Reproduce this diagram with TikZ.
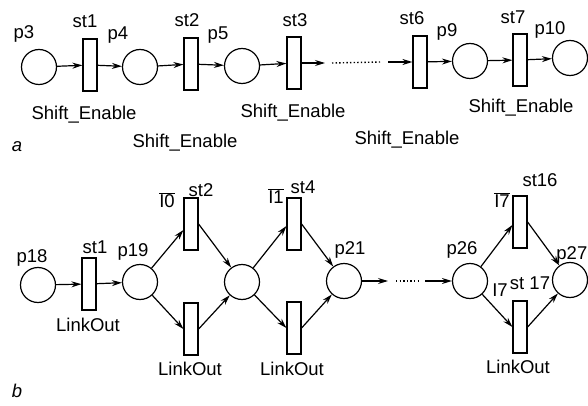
\documentclass[tikz,border=0pt]{standalone}
\usepackage{fontspec}
\setmainfont{Liberation Sans}
\usetikzlibrary{arrows.meta}
\begin{document}
\begin{tikzpicture}[x=1pt,y=-1pt,
  place/.style={circle,draw,line width=1.2pt,minimum size=35pt,inner sep=0pt},
  trans/.style={rectangle,draw,line width=1.2pt,minimum width=14pt,minimum height=52pt,inner sep=0pt},
  lbl/.style={font=\fontsize{18.5}{20}\selectfont,inner sep=0pt},
  tag/.style={font=\fontsize{18.5}{20}\selectfont\itshape,inner sep=0pt},
  arc/.style={line width=1.2pt,-{Stealth[length=10pt,width=6pt]}},
  dots/.style={line width=1.4pt,dash pattern=on 1.4pt off 2.2pt}]
\useasboundingbox (0,0) rectangle (588,406);
% ---------- part a ----------
\node[place] (p3) at (39,67) {};
\node[trans] (st1) at (90,65) {};
\node[place] (p4) at (140,67) {};
\node[trans] (st2) at (191,64) {};
\node[place] (p5) at (242,66) {};
\node[trans] (st3) at (294,63) {};
\coordinate (a1) at (325,63);
\coordinate (a2) at (332,63);
\coordinate (a3) at (380,62);
\coordinate (a4) at (388,62);
\node[trans] (st6) at (420,62) {};
\node[place] (p9) at (470,61) {};
\node[trans] (st7) at (520,60) {};
\node[place] (p10) at (570,58) {};
\draw[arc] (p3) -- (st1);
\draw[arc] (st1) -- (p4);
\draw[arc] (p4) -- (st2);
\draw[arc] (st2) -- (p5);
\draw[arc] (p5) -- (st3);
\draw[arc] (st3) -- (a1);
\draw[dots] (a2) -- (a3);
\draw[arc] (a4) -- (st6);
\draw[arc] (st6) -- (p9);
\draw[arc] (p9) -- (st7);
\draw[arc] (st7) -- (p10);
\node[lbl] (lp3) at (24,34) {p3};
\node[lbl] (lst1) at (85,21) {st1};
\node[lbl] (lp4) at (118,35) {p4};
\node[lbl] (lst2) at (187,20) {st2};
\node[lbl] (lp5) at (218,35) {p5};
\node[lbl] (lst3) at (295,20) {st3};
\node[lbl] (lst6) at (412,18) {st6};
\node[lbl] (lp9) at (447,32) {p9};
\node[lbl] (lst7) at (513,17) {st7};
\node[lbl] (lp10) at (550,30) {p10};
\node[lbl] (se1) at (84,115) {Shift\_Enable};
\node[lbl] (se2) at (185,143) {Shift\_Enable};
\node[lbl] (se3) at (293,113) {Shift\_Enable};
\node[lbl] (se4) at (407,140) {Shift\_Enable};
\node[lbl] (se5) at (521,108) {Shift\_Enable};
\node[tag] (ta) at (17,147) {a};
% ---------- part b ----------
\node[place] (p18) at (38,285) {};
\node[trans] (bst1) at (89,284) {};
\node[place] (p19) at (140,282) {};
\node[trans] (bst2) at (191,224) {};
\node[trans] (bl2) at (191,329) {};
\node[place] (pm) at (242,282) {};
\node[trans] (bst4) at (294,224) {};
\node[trans] (bl4) at (294,328) {};
\node[place] (p21) at (344,281) {};
\coordinate (b1) at (388,281);
\coordinate (b2) at (396,281);
\coordinate (b3) at (418,281);
\coordinate (b4) at (425,281);
\node[place] (p26) at (470,281) {};
\node[trans] (st16) at (520,222) {};
\node[trans] (st17) at (520,327) {};
\node[place] (p27) at (570,280) {};
\draw[arc] (p18) -- (bst1);
\draw[arc] (bst1) -- (p19);
\draw[arc] (p19) -- ([yshift=-6pt]bst2.west);
\draw[arc] (bst2.east) -- (pm);
\draw[arc] (p19) -- (bl2.west);
\draw[arc] (bl2.east) -- (pm);
\draw[arc] (pm) -- ([yshift=-2pt]bst4.west);
\draw[arc] (bst4.east) -- (p21);
\draw[arc] (pm) -- (bl4.west);
\draw[arc] (bl4.east) -- (p21);
\draw[arc] (p21) -- (b1);
\draw[dots] (b2) -- (b3);
\draw[arc] (b4) -- (p26);
\draw[arc] (p26) -- ([yshift=-3pt]st16.west);
\draw[arc] (st16.east) -- (p27);
\draw[arc] (p26) -- (st17.west);
\draw[arc] (st17.east) -- (p27);
\node[lbl] (lp18) at (32,258) {p18};
\node[lbl] (lbst1) at (95,247) {st1};
\node[lbl] (lk1) at (88,325) {LinkOut};
\node[lbl] (lp19) at (133,252) {p19};
\node[lbl] (li0) at (167,200) {$\overline{\mbox{I0}}$};
\node[lbl] (lbst2) at (201,190) {st2};
\node[lbl] (lk2) at (190,369) {LinkOut};
\node[lbl] (li1) at (276,196) {$\overline{\mbox{I1}}$};
\node[lbl] (lbst4) at (303,187) {st4};
\node[lbl] (lk3) at (292,369) {LinkOut};
\node[lbl] (lp21) at (350,250) {p21};
\node[lbl] (lp26) at (462,250) {p26};
\node[lbl] (li7a) at (502,200) {$\overline{\mbox{I7}}$};
\node[lbl] (lst16) at (540,180) {st16};
\node[lbl] (li7b) at (500,290) {I7};
\node[lbl] (lst17) at (530,283) {st 17};
\node[lbl,anchor=east] (lp27) at (587.5,255) {p27};
\node[lbl] (lk4) at (518,367) {LinkOut};
\node[tag] (tb) at (17,391) {b};
\end{tikzpicture}
\end{document}
